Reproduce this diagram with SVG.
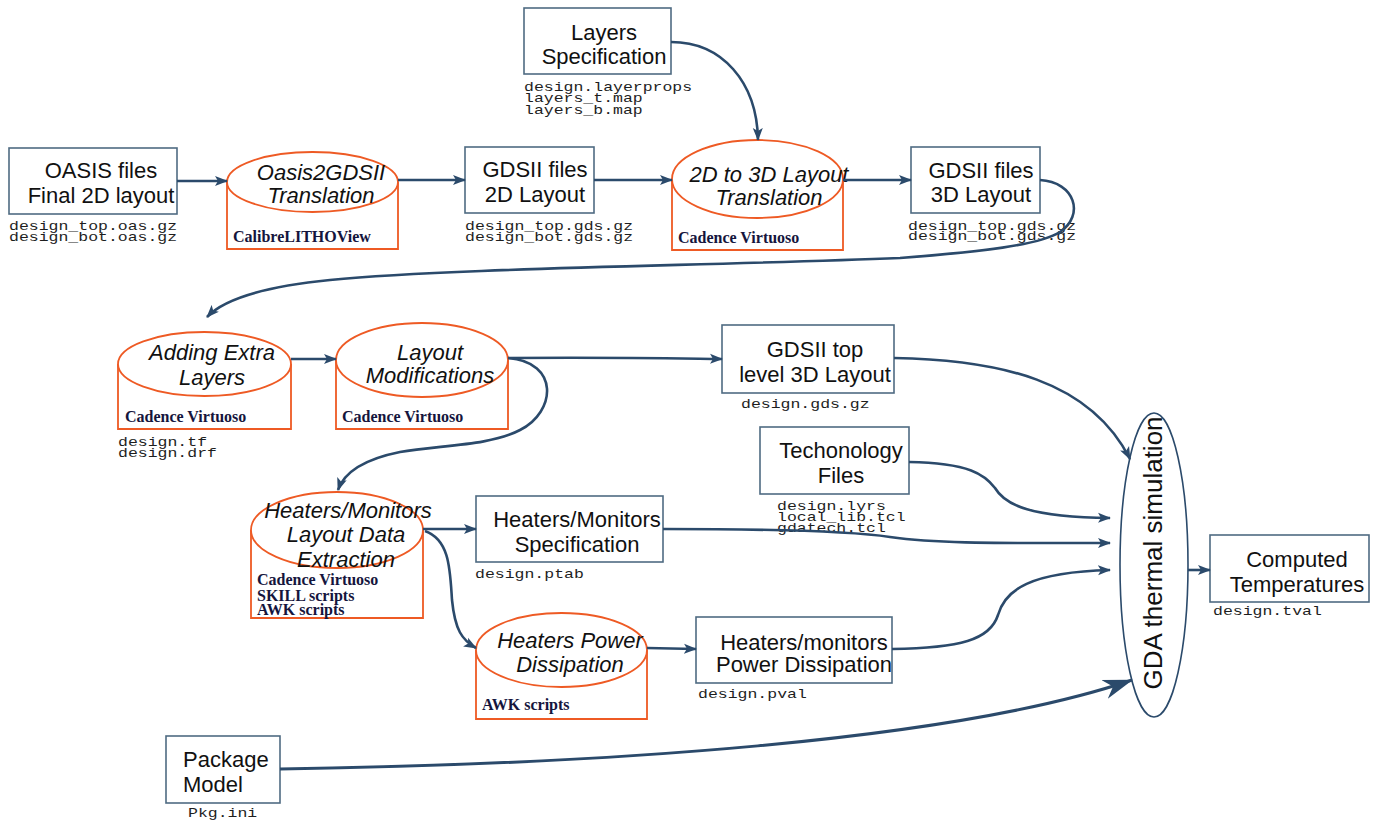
<svg xmlns="http://www.w3.org/2000/svg" width="1381" height="826" viewBox="0 0 1381 826">
<style>
.box{fill:#fff;stroke:#4f6b82;stroke-width:1.6}
.cyl{fill:#fff;stroke:#ee5a24;stroke-width:1.8}
.t{font-family:"Liberation Sans",Arial,sans-serif;font-size:22px;fill:#111;text-anchor:middle}
.ti{font-family:"Liberation Sans",Arial,sans-serif;font-size:22px;fill:#111;text-anchor:middle;font-style:italic}
.m{font-family:"Liberation Mono","Courier New",monospace;font-size:16.5px;fill:#1e1e1e}
.s{font-family:"Liberation Serif","Times New Roman",serif;font-size:16px;font-weight:bold;fill:#15153d}
.c{fill:none;stroke:#2b4a6b;stroke-width:2.6}
</style>
<defs>
<marker id="ah" markerWidth="14" markerHeight="12" refX="12" refY="6" orient="auto" markerUnits="userSpaceOnUse">
<path d="M0,1 L13,6 L0,11 L3,6 z" fill="#2b4a6b"/>
</marker>
<marker id="ahb" markerWidth="32" markerHeight="22" refX="29" refY="11" orient="auto" markerUnits="userSpaceOnUse">
<path d="M0,1 L30,11 L0,21 L9,11 z" fill="#2b4a6b"/>
</marker>
</defs>

<g id="n-oasis">
<rect class="box" x="9" y="148" width="168" height="66"/>
<text class="t" x="101" y="178">OASIS files</text>
<text class="t" x="101" y="203">Final 2D layout</text>
<text class="m" transform="translate(9,230) scale(1,0.78)">design_top.oas.gz</text>
<text class="m" transform="translate(9,241) scale(1,0.78)">design_bot.oas.gz</text>
</g>

<g id="n-oasis2gdsii">
<path class="cyl" d="M227,182 L227,249 L398,249 L398,182"/>
<ellipse class="cyl" cx="312.5" cy="182" rx="85.5" ry="30"/>
<text class="ti" x="321" y="180">Oasis2GDSII</text>
<text class="ti" x="321" y="203">Translation</text>
<text class="s" x="233" y="242">CalibreLITHOView</text>
</g>

<g id="n-gds2d">
<rect class="box" x="465" y="147" width="129" height="66"/>
<text class="t" x="535" y="177">GDSII files</text>
<text class="t" x="535" y="202">2D Layout</text>
<text class="m" transform="translate(465,230) scale(1,0.78)">design_top.gds.gz</text>
<text class="m" transform="translate(465,241) scale(1,0.78)">design_bot.gds.gz</text>
</g>

<g id="n-layers">
<rect class="box" x="524" y="8" width="147" height="66"/>
<text class="t" x="604" y="40">Layers</text>
<text class="t" x="604" y="64">Specification</text>
<text class="m" transform="translate(524,91) scale(1,0.78)">design.layerprops</text>
<text class="m" transform="translate(524,102) scale(1,0.78)">layers_t.map</text>
<text class="m" transform="translate(524,114) scale(1,0.78)">layers_b.map</text>
</g>

<g id="n-2d3d">
<path class="cyl" d="M672,179 L672,250 L843,250 L843,179"/>
<ellipse class="cyl" cx="757.5" cy="179" rx="85.5" ry="39"/>
<text class="ti" x="769" y="182">2D to 3D Layout</text>
<text class="ti" x="769" y="205">Translation</text>
<text class="s" x="678" y="243">Cadence Virtuoso</text>
</g>

<g id="n-gds3d">
<rect class="box" x="911" y="147" width="129" height="66"/>
<text class="t" x="981" y="178">GDSII files</text>
<text class="t" x="981" y="202">3D Layout</text>
<text class="m" transform="translate(908,230) scale(1,0.78)">design_top.gds.gz</text>
<text class="m" transform="translate(908,240) scale(1,0.78)">design_bot.gds.gz</text>
</g>

<g id="n-adding">
<path class="cyl" d="M118,364 L118,429 L291,429 L291,364"/>
<ellipse class="cyl" cx="204.5" cy="364" rx="86.5" ry="32"/>
<text class="ti" x="212" y="360">Adding Extra</text>
<text class="ti" x="212" y="385">Layers</text>
<text class="s" x="125" y="422">Cadence Virtuoso</text>
<text class="m" transform="translate(118,446) scale(1,0.78)">design.tf</text>
<text class="m" transform="translate(118,457) scale(1,0.78)">design.drf</text>
</g>

<g id="n-layoutmod">
<path class="cyl" d="M336,360 L336,429 L508,429 L508,360"/>
<ellipse class="cyl" cx="422" cy="360" rx="86" ry="37"/>
<text class="ti" x="430" y="360">Layout</text>
<text class="ti" x="430" y="383">Modifications</text>
<text class="s" x="342" y="422">Cadence Virtuoso</text>
</g>

<g id="n-gdstop">
<rect class="box" x="722" y="325" width="172" height="68"/>
<text class="t" x="815" y="357">GDSII top</text>
<text class="t" x="815" y="382">level 3D Layout</text>
<text class="m" transform="translate(741,408) scale(1,0.78)">design.gds.gz</text>
</g>

<g id="n-tech">
<rect class="box" x="760" y="427" width="149" height="67"/>
<text class="t" x="841" y="458">Techonology</text>
<text class="t" x="841" y="483">Files</text>
<text class="m" transform="translate(777,510) scale(1,0.78)">design.lyrs</text>
<text class="m" transform="translate(777,521) scale(1,0.78)">local_lib.tcl</text>
<text class="m" transform="translate(777,532) scale(1,0.78)">gdatech.tcl</text>
</g>

<g id="n-extract">
<path class="cyl" d="M251,530 L251,618 L423,618 L423,530"/>
<ellipse class="cyl" cx="337" cy="530" rx="86" ry="38"/>
<text class="ti" x="348" y="518">Heaters/Monitors</text>
<text class="ti" x="346" y="542">Layout Data</text>
<text class="ti" x="346" y="567">Extraction</text>
<text class="s" x="257" y="585">Cadence Virtuoso</text>
<text class="s" x="257" y="601">SKILL scripts</text>
<text class="s" x="257" y="615">AWK scripts</text>
</g>

<g id="n-hmspec">
<rect class="box" x="476" y="496" width="187" height="66"/>
<text class="t" x="577" y="527">Heaters/Monitors</text>
<text class="t" x="577" y="552">Specification</text>
<text class="m" transform="translate(475,578) scale(1,0.78)">design.ptab</text>
</g>

<g id="n-hpower">
<path class="cyl" d="M476,650 L476,719 L647,719 L647,650"/>
<ellipse class="cyl" cx="561.5" cy="650" rx="85.5" ry="37"/>
<text class="ti" x="570" y="648">Heaters Power</text>
<text class="ti" x="570" y="672">Dissipation</text>
<text class="s" x="482" y="710">AWK scripts</text>
</g>

<g id="n-pdiss">
<rect class="box" x="696" y="617" width="196" height="66"/>
<text class="t" x="804" y="650">Heaters/monitors</text>
<text class="t" x="804" y="672">Power Dissipation</text>
<text class="m" transform="translate(698,698) scale(1,0.78)">design.pval</text>
</g>

<g id="n-gda">
<ellipse cx="1154" cy="565" rx="34" ry="152" fill="#fff" stroke="#2b4a6b" stroke-width="1.6"/>
<text class="t" style="font-size:26px" transform="translate(1162,553) rotate(-90)">GDA thermal simulation</text>
</g>

<g id="n-computed">
<rect class="box" x="1210" y="535" width="159" height="67"/>
<text class="t" x="1297" y="567">Computed</text>
<text class="t" x="1297" y="592">Temperatures</text>
<text class="m" transform="translate(1213,615) scale(1,0.78)">design.tval</text>
</g>

<g id="n-package">
<rect class="box" x="166" y="736" width="114" height="67"/>
<text class="t" style="text-anchor:start" x="183" y="767">Package</text>
<text class="t" style="text-anchor:start" x="183" y="792">Model</text>
<text class="m" transform="translate(188,817) scale(1,0.78)">Pkg.ini</text>
</g>

<g id="connectors">
<path class="c" marker-end="url(#ah)" d="M177,181 L227,181"/>
<path class="c" marker-end="url(#ah)" d="M398,180 L465,180"/>
<path class="c" marker-end="url(#ah)" d="M594,180 L672,180"/>
<path class="c" marker-end="url(#ah)" d="M843,180 L911,180"/>
<path class="c" marker-end="url(#ah)" d="M671,42 C722,42 757,82 758,140"/>
<path class="c" marker-end="url(#ah)" d="M1040,180 C1075,182 1085,215 1060,232 C1040,245 980,252 900,258 C700,266 450,268 330,280 C270,286 225,298 207,317"/>
<path class="c" marker-end="url(#ah)" d="M291,359 L336,359"/>
<path class="c" marker-end="url(#ah)" d="M508,358 C600,357 650,358 722,359"/>
<path class="c" marker-end="url(#ah)" d="M508,358 C560,362 556,412 520,430 C490,446 440,445 400,452 C370,458 345,470 338,490"/>
<path class="c" marker-end="url(#ah)" d="M423,529 L476,529"/>
<path class="c" marker-end="url(#ah)" d="M425,531 C450,540 450,570 452,600 C455,630 462,640 476,648"/>
<path class="c" marker-end="url(#ah)" d="M647,648 L696,649"/>
<path class="c" marker-end="url(#ah)" d="M894,358 C1000,360 1090,380 1130,459"/>
<path class="c" marker-end="url(#ah)" d="M909,462 C970,463 985,475 995,488 C1005,505 1030,517 1110,518"/>
<path class="c" marker-end="url(#ah)" d="M663,529 C780,529 850,531 890,537 C940,544 1000,543 1110,543"/>
<path class="c" marker-end="url(#ah)" d="M892,649 C960,648 990,640 998,615 C1005,590 1030,572 1110,570"/>
<path class="c" marker-end="url(#ah)" d="M1188,570 L1210,570"/>
<path class="c" style="stroke-width:3" marker-end="url(#ahb)" d="M280,769 C600,764 950,742 1132,680"/>
</g>
</svg>
